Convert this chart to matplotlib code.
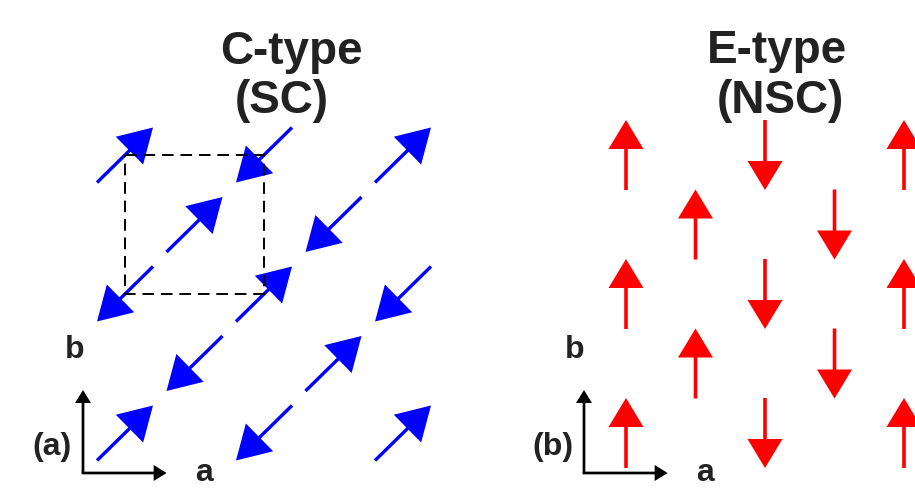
import matplotlib
matplotlib.use("Agg")
import matplotlib.pyplot as plt
from matplotlib.patches import Rectangle

# ---- data ----
site_col = [0, 2, 4, 1, 3, 0, 2, 4, 1, 3, 0, 2, 4]
site_row = [0, 0, 0, 1, 1, 2, 2, 2, 3, 3, 4, 4, 4]
c_type_spin = [+1, -1, +1, +1, -1, -1, +1, -1, -1, +1, +1, -1, +1]   # +1: up-right, -1: down-left
e_type_spin = [+1, -1, +1, +1, -1, +1, -1, +1, +1, -1, +1, -1, +1]   # +1: up, -1: down
titles_top = ["C-type", "E-type"]
titles_bottom = ["(SC)", "(NSC)"]
panel_labels = ["(a)", "(b)"]
axis_labels = ["a", "b"]

# ---- layout (pixels) ----
W, H = 915, 491
spacing = 69.5
left_origin = (125, 155)
right_origin = (626, 155)

fig = plt.figure(figsize=(W / 100, H / 100), dpi=100)
ax = fig.add_axes([0, 0, 1, 1])
ax.set_xlim(0, W)
ax.set_ylim(H, 0)
ax.axis("off")

font = dict(family=["Liberation Sans", "DejaVu Sans"], weight="bold", color="#222222")

# C-type (diagonal) arrows
for i, j, s in zip(site_col, site_row, c_type_spin):
    x = left_origin[0] + i * spacing
    y = left_origin[1] + j * spacing
    dx, dy = 56 * s, -55 * s
    ax.arrow(x - dx / 2, y - dy / 2, dx, dy, width=3.4, head_width=39,
             head_length=33, length_includes_head=True, color="#0000ff", lw=0)

# E-type (vertical) arrows
for i, j, s in zip(site_col, site_row, e_type_spin):
    x = right_origin[0] + i * spacing
    y = right_origin[1] + j * spacing
    dy = -70 * s
    ax.arrow(x, y - dy / 2, 0, dy, width=3.6, head_width=35,
             head_length=29, length_includes_head=True, color="#ff0000", lw=0)

# dashed unit cell
ax.add_patch(Rectangle(left_origin, 2 * spacing, 2 * spacing, fill=False,
                       ec="black", lw=1.4, ls=(0, (6, 3.5))))

# titles
ax.text(291, 64, titles_top[0], ha="center", va="baseline", fontsize=33, **font)
ax.text(282, 113, titles_bottom[0], ha="center", va="baseline", fontsize=33, **font)
ax.text(777, 63, titles_top[1], ha="center", va="baseline", fontsize=33, **font)
ax.text(780, 113, titles_bottom[1], ha="center", va="baseline", fontsize=33, **font)

# axis indicators
for ox, plab, pl_x, b_x, a_x in [(83, panel_labels[0], 52, 75, 204),
                                 (584, panel_labels[1], 553, 575, 705)]:
    oy = 473
    ax.arrow(ox, oy, 0, -83, width=2.7, head_width=16, head_length=13,
             length_includes_head=True, color="black", lw=0)
    ax.arrow(ox - 1.35, oy, 85, 0, width=2.7, head_width=16, head_length=13,
             length_includes_head=True, color="black", lw=0)
    ax.text(pl_x, 447, plab, ha="center", va="center", fontsize=23, **font)
    ax.text(b_x, 350, axis_labels[1], ha="center", va="center", fontsize=23, **font)
    ax.text(a_x, 473, axis_labels[0], ha="center", va="center", fontsize=23, **font)

fig.savefig("out.png", dpi=100)
